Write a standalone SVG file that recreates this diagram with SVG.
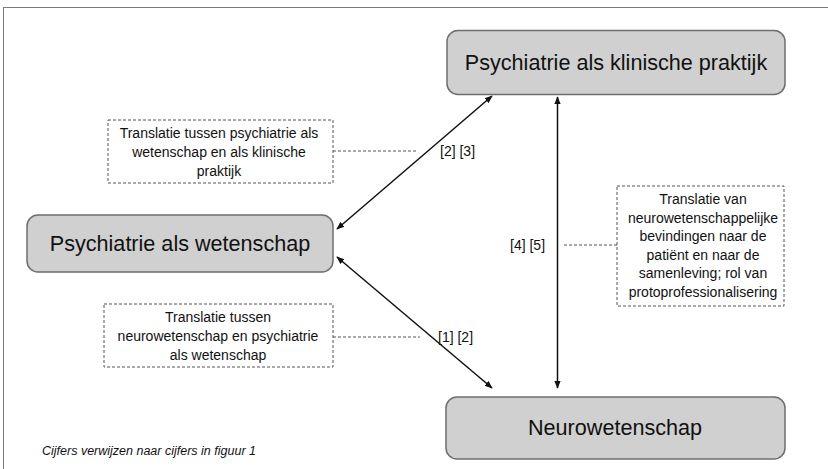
<svg xmlns="http://www.w3.org/2000/svg" width="828" height="469" viewBox="0 0 828 469">
<style>
.node{fill:#d0d0d0;stroke:#6e6e6e;stroke-width:1.5}
.big{font-family:"Liberation Sans",Arial,sans-serif;font-size:21.6px;fill:#111;text-anchor:middle}
.small{font-family:"Liberation Sans",Arial,sans-serif;font-size:14px;fill:#111;text-anchor:middle}
.lab{font-family:"Liberation Sans",Arial,sans-serif;font-size:14px;fill:#111}
.dbox{fill:#fff;stroke:#555;stroke-width:1;stroke-dasharray:3 2}
.dline{stroke:#555;stroke-width:1;stroke-dasharray:3 2;fill:none}
.arr{stroke:#111;stroke-width:1.5;fill:none;marker-start:url(#ah);marker-end:url(#ah)}
</style>
<defs>
<marker id="ah" viewBox="0 0 10 10" refX="9" refY="5" markerWidth="8" markerHeight="8" markerUnits="userSpaceOnUse" orient="auto-start-reverse">
<path d="M0,1 L10,5 L0,9 z" fill="#111"/>
</marker>
</defs>
<rect width="828" height="469" fill="#fff"/>
<rect x="3.5" y="7.5" width="900" height="500" fill="none" stroke="#7a7a7a" stroke-width="1"/>
<g id="connectors">
<line class="arr" x1="337" y1="229" x2="492" y2="96"/>
<line class="arr" x1="337" y1="257" x2="492" y2="388"/>
<line class="arr" x1="557.5" y1="97" x2="557.5" y2="388"/>
<line class="dline" x1="333" y1="151" x2="418" y2="151"/>
<line class="dline" x1="333" y1="337" x2="420" y2="337"/>
<line class="dline" x1="564" y1="245" x2="617" y2="245"/>
<text class="lab" x="440" y="156">[2] [3]</text>
<text class="lab" x="438" y="342">[1] [2]</text>
<text class="lab" x="510" y="250">[4] [5]</text>
</g>
<g id="node-klinisch">
<rect class="node" x="447" y="30.5" width="338" height="64" rx="11"/>
<text class="big" x="616" y="70">Psychiatrie als klinische praktijk</text>
</g>
<g id="node-wetenschap">
<rect class="node" x="27" y="215" width="306" height="57" rx="11"/>
<text class="big" x="180" y="251">Psychiatrie als wetenschap</text>
</g>
<g id="node-neuro">
<rect class="node" x="446" y="397" width="339" height="62" rx="11"/>
<text class="big" x="615" y="435">Neurowetenschap</text>
</g>
<g id="note-23">
<rect class="dbox" x="108" y="120" width="225" height="63"/>
<text class="small" x="219" y="138">Translatie tussen psychiatrie als</text>
<text class="small" x="219" y="157">wetenschap en als klinische</text>
<text class="small" x="219" y="176">praktijk</text>
</g>
<g id="note-12">
<rect class="dbox" x="104" y="304" width="229" height="63"/>
<text class="small" x="218" y="322">Translatie tussen</text>
<text class="small" x="218" y="341">neurowetenschap en psychiatrie</text>
<text class="small" x="218" y="360">als wetenschap</text>
</g>
<g id="note-45">
<rect class="dbox" x="617" y="186" width="167" height="120"/>
<text class="small" x="703" y="204">Translatie van</text>
<text class="small" x="703" y="222.5">neurowetenschappelijke</text>
<text class="small" x="703" y="241">bevindingen naar de</text>
<text class="small" x="703" y="259.5">patiënt en naar de</text>
<text class="small" x="703" y="278">samenleving; rol van</text>
<text class="small" x="703" y="296.5">protoprofessionalisering</text>
</g>
<text x="42" y="455" font-family="Liberation Sans, Arial, sans-serif" font-size="12.5" font-style="italic" fill="#111">Cijfers verwijzen naar cijfers in figuur 1</text>
</svg>
